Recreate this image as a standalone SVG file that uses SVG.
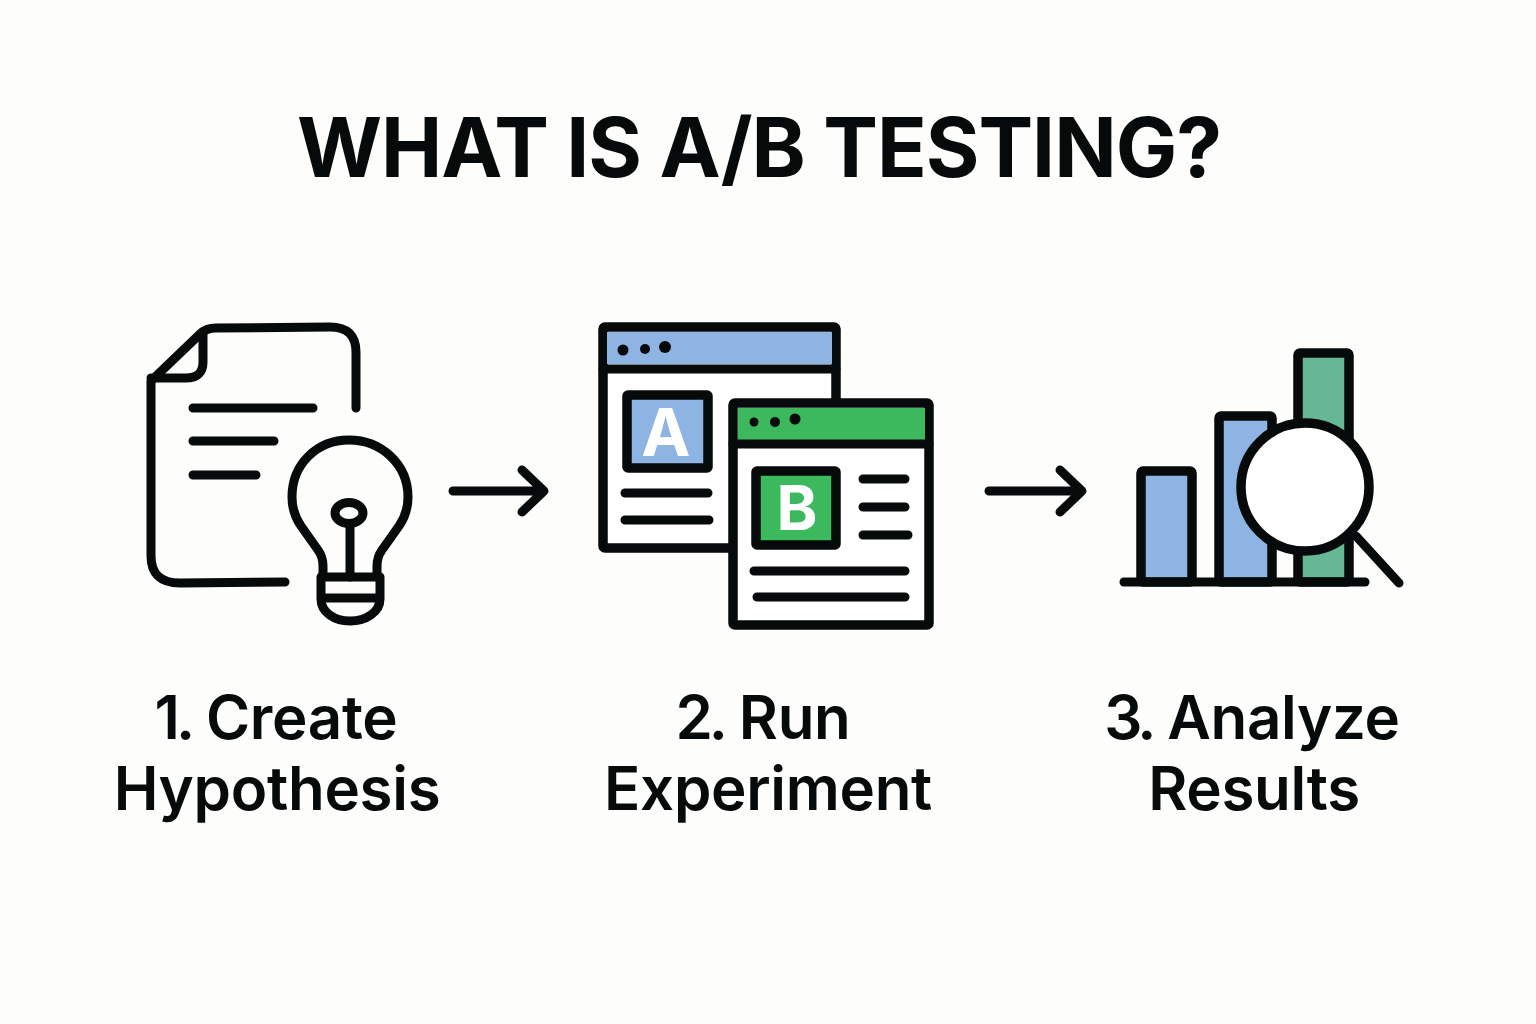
<svg xmlns="http://www.w3.org/2000/svg" width="1536" height="1024" viewBox="0 0 1536 1024">
<style>
.k{fill:none;stroke:#060a0a;stroke-width:9;stroke-linecap:round;stroke-linejoin:round}
.w{fill:#fff;stroke:#060a0a;stroke-width:9.5;stroke-linejoin:round}
.s{stroke:#060a0a;stroke-width:9.5;stroke-linejoin:round}
.t{font-family:Inter,"Liberation Sans",sans-serif;fill:#060a0a;text-anchor:middle}
.l{font-size:60px;font-weight:600;letter-spacing:-0.3px}
.n{letter-spacing:-4px}
.d{fill:#060a0a}
.blue{fill:#8db4e2}
.green{fill:#3cb95d}
.teal{fill:#66b795}
</style>
<rect width="1536" height="1024" fill="#fdfdfb"/>
<text class="t" id="title" x="759" y="177" font-size="82" font-weight="700" letter-spacing="-1">WHAT IS A/B TESTING?</text>
<g id="node-hypothesis">
<path class="k" d="M356 408V352Q356 327 330 327L216 328Q206 328 200 334L151 381V556Q151 583 180 583L285 582"/>
<path class="k" d="M203 332V362Q203 378 186 378H151"/>
<path class="k" d="M193 408H313M193 441H274M193 475H256"/>
<path class="k" d="M323 577V566Q323 557 318 550L301 526Q292 513 292 497C292 464 317 440 349 440C381 440 408 464 408 497Q408 513 399 526L382 550Q377 557 377 566V577"/>
<path class="k" d="M321 577H380V599C380 612 366 621 350 621C334 621 321 612 321 599ZM321 598H380"/>
<ellipse class="k" cx="349" cy="513" rx="14" ry="10.5"/>
<path class="k" d="M350 525V577" stroke-width="8"/>
<text class="t l" x="276" y="739"><tspan class="n">1.</tspan> Create</text>
<text class="t l" x="277" y="810">Hypothesis</text>
</g>
<g id="connectors">
<path class="k" d="M453 491H543M522 470L544 491L522 512"/>
<path class="k" d="M989 491H1081M1060 470L1082 491L1060 512"/>
</g>
<g id="node-experiment">
<rect class="w" x="603" y="327" width="233" height="221" rx="2"/>
<rect class="blue" x="607" y="332" width="225" height="32"/>
<path class="k" d="M603 369H836"/>
<circle class="d" cx="623" cy="350" r="5.5"/><circle class="d" cx="645" cy="349" r="5"/><circle class="d" cx="665" cy="347" r="6"/>
<rect class="blue s" x="627" y="395" width="81" height="73" rx="1"/>
<text class="t" x="666" y="456" font-size="66" font-weight="700" style="fill:#fff">A</text>
<path class="k" d="M625 493H708M625 520H709"/>
<rect class="w" x="733" y="403" width="196" height="222" rx="2"/>
<rect class="green" x="738" y="408" width="187" height="32"/>
<path class="k" d="M733 444H929"/>
<circle class="d" cx="754" cy="422" r="4.5"/><circle class="d" cx="775" cy="422" r="5"/><circle class="d" cx="795" cy="419" r="5.5"/>
<rect class="green s" x="756" y="471" width="80" height="74" rx="1"/>
<text class="t" x="797" y="530" font-size="62" font-weight="700" style="fill:#fff">B</text>
<path class="k" d="M863 479H905M863 507H905M863 535H908M754 571H905M757 597H905"/>
<text class="t l" x="763" y="739"><tspan class="n">2.</tspan> Run</text>
<text class="t l" x="768" y="810">Experiment</text>
</g>
<g id="node-results">
<rect class="blue s" x="1141" y="471" width="51" height="111" rx="2"/>
<rect class="blue s" x="1219" y="416" width="53" height="166" rx="2"/>
<rect class="teal s" x="1298" y="353" width="51" height="229" rx="2"/>
<path class="k" d="M1124 582H1365"/>
<path class="k" d="M1356 536L1399 583" stroke-width="7"/>
<circle class="w" cx="1305" cy="487" r="64"/>
<text class="t l" x="1252" y="739"><tspan class="n">3.</tspan> Analyze</text>
<text class="t l" x="1254" y="810">Results</text>
</g>
</svg>
